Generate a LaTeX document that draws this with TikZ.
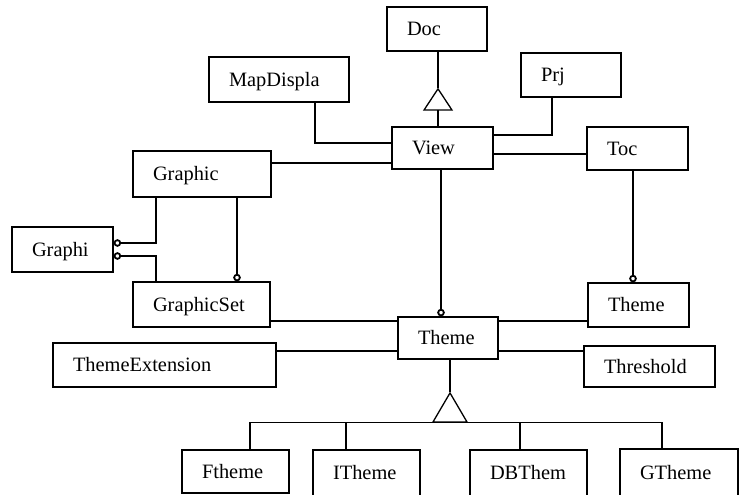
\documentclass[tikz,border=0pt]{standalone}
\usepackage{fontspec}
\setmainfont{Liberation Serif}
\usetikzlibrary{arrows.meta,calc}
\tikzset{
  cls/.style n args={2}{draw, line width=1.3pt, text width=#1, minimum height=#2,
    inner xsep=20pt, inner ysep=0pt, align=left, text height=13.5pt, text depth=0pt},
  link/.style={line width=1.3pt},
  agg/.style={link, -{Circle[open, length=7.5pt, line width=1.8pt]}},
  gen/.style={link, -{Triangle[open, length=23pt, width=30pt]}},
  genbig/.style={link, -{Triangle[open, length=31pt, width=36pt]}},
}

\begin{document}
\begin{tikzpicture}[x=1pt, y=1pt, font=\fontsize{20.4}{24}\selectfont]
    \useasboundingbox (0,0) rectangle (747,495);
    \clip (0,0) rectangle (747,495);
    % classes
    \node[cls={60pt}{44pt}] (doc) at (437,466) {Doc};
    \node[cls={100pt}{45pt}] (mapd) at (279,415.5) {MapDispla};
    \node[cls={60pt}{44pt}] (prj) at (571,420) {Prj};
    \node[cls={61pt}{42pt}] (view) at (442.5,347) {View};
    \node[cls={61pt}{43pt}] (toc) at (637.5,346.5) {Toc};
    \node[cls={98pt}{46pt}] (graphic) at (202,321) {Graphic};
    \node[cls={61pt}{45pt}] (graphi) at (62.5,245.5) {Graphi};
    \node[cls={97pt}{45pt}] (gset) at (201.5,190.5) {GraphicSet};
    \node[cls={183pt}{44pt}] (themeext) at (164.5,130) {ThemeExtension};
    \node[cls={60pt}{42pt}] (theme) at (448,157) {Theme};
    \node[cls={61pt}{44pt}] (themeb) at (638.5,190) {Theme};
    \node[cls={91pt}{41pt}] (thresh) at (649.5,128.5) {Threshold};
    \node[cls={67pt}{43pt}] (ftheme) at (235.5,23.5) {Ftheme};
    \node[cls={67pt}{46pt}] (itheme) at (366.5,22) {ITheme};
    \node[cls={77pt}{46pt}] (dbthem) at (528.5,22) {DBThem};
    \node[cls={78pt}{47pt}] (gtheme) at (679,22.5) {GTheme};

    % View and its neighbours
    \coordinate (docgen) at ([xshift=1pt,yshift=-36pt]doc.south);
    \draw[link] ([xshift=1pt]doc.south) -- (docgen);
    \draw[gen] (docgen |- view.north) -- (docgen);
    \draw[link] ([xshift=36pt]mapd.south) |- ([yshift=5pt]view.west);
    \draw[link] ([xshift=-19pt]prj.south) |- ([yshift=13pt]view.east);
    \draw[link] ([yshift=-15pt]view.west) -- ([yshift=-15pt]view.west -| graphic.east);
    \draw[link] ([yshift=-6pt]view.east) -- ([yshift=-6pt]view.east -| toc.west);
    \draw[agg] ([xshift=-1.5pt]view.south) -- ([xshift=-1.5pt]view.south |- theme.north);
    \draw[agg] ([xshift=-4.5pt]toc.south) -- ([xshift=-4.5pt]toc.south |- themeb.north);

    % Graphic side
    \draw[agg] ([xshift=35pt]graphic.south) -- ([xshift=35pt]graphic.south |- gset.north);
    \draw[agg] ([xshift=-46pt]graphic.south) |- ([yshift=6.5pt]graphi.east);
    \draw[agg] ([xshift=-45.5pt]gset.north) |- ([yshift=-6.5pt]graphi.east);

    % Theme associations
    \draw[link] ([yshift=17pt]theme.west) -- ([yshift=17pt]theme.west -| gset.east);
    \draw[link] ([yshift=17pt]theme.east) -- ([yshift=17pt]theme.east -| themeb.west);
    \draw[link] ([yshift=-13pt]theme.west) -- ([yshift=-13pt]theme.west -| themeext.east);
    \draw[link] ([yshift=-13pt]theme.east) -- ([yshift=-13pt]theme.east -| thresh.west);

    % Theme subclasses
    \coordinate (themegen) at ([xshift=2pt,yshift=-32pt]theme.south);
    \coordinate (hub) at ([xshift=2pt,yshift=-63pt]theme.south);
    \draw[link] ([xshift=2pt]theme.south) -- (themegen);
    \draw[genbig] (hub) -- (themegen);
    \draw[link] ([xshift=14.5pt]ftheme.north) |- (hub) -| ([xshift=-17pt]gtheme.north);
    \draw[link] ([xshift=-20.5pt]itheme.north) -- ([xshift=-20.5pt]itheme.north |- hub);
    \draw[link] ([xshift=-8.5pt]dbthem.north) -- ([xshift=-8.5pt]dbthem.north |- hub);
\end{tikzpicture}
\end{document}
